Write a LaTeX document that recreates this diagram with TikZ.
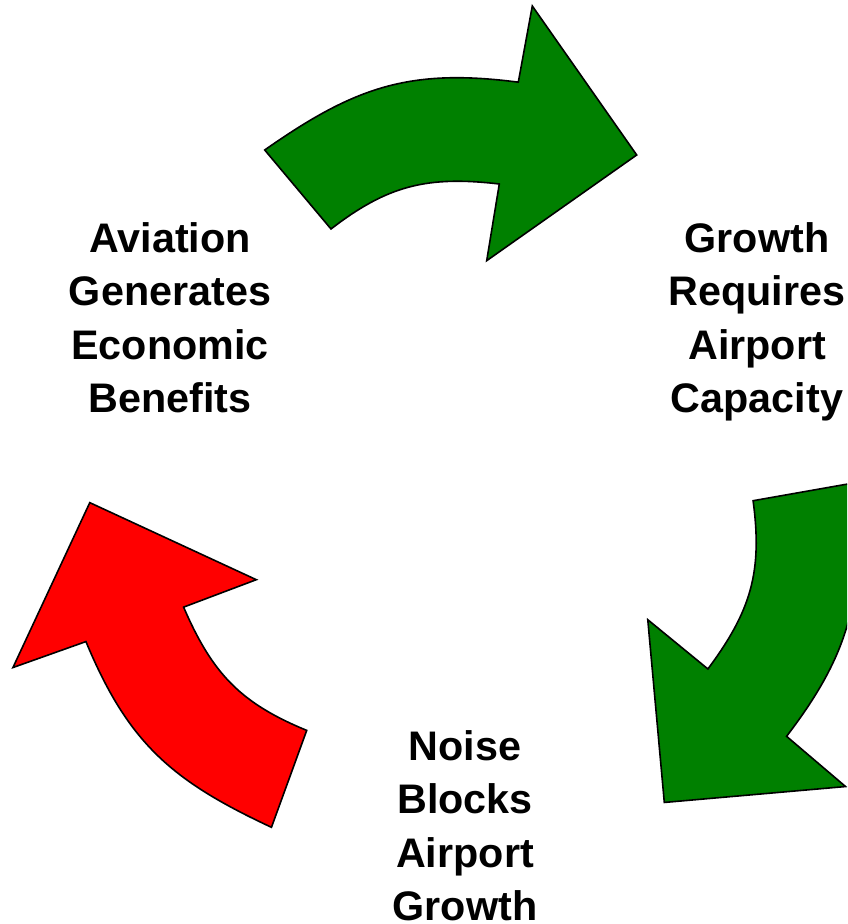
\documentclass[tikz,border=0pt]{standalone}
\usepackage{fontspec}
\setmainfont{Liberation Sans}
\usepackage{tikz}
\usetikzlibrary{positioning}
\definecolor{cyclegreen}{RGB}{0,128,0}
\definecolor{cyclered}{RGB}{255,0,0}
\tikzstyle{cyclearrow} = [draw=black, line width=0.8pt, miter limit=10]
\tikzstyle{cycletext} = [align=center, inner sep=0pt, anchor=north, font=\fontsize{20.65}{26.65}\selectfont\bfseries]

\begin{document}
\begin{tikzpicture}[x=0.5pt, y=0.5pt]
			\useasboundingbox (-463.6,-437.3) rectangle (383.4,486.7);
			\clip (-463.6,-437.3) rectangle (383.4,486.7);
			\foreach \ang/\col in {0/cyclegreen, -120/cyclegreen, 120/cyclered}
				\draw[cyclearrow, fill=\col, rotate=\ang] (-198.9,336.7) .. controls (-108.8,399.8) and (-54.3,418.7) .. (54.7,404.5) -- (68.7,480.7) -- (173.1,331.7) -- (23.1,226.0) -- (35.7,302.7) .. controls (-35.8,311.0) and (-75.6,301.7) .. (-132.6,257.7) -- cycle;
			\node[cycletext](benefits) at (-293.6,264.4){Aviation\\Generates\\Economic\\Benefits};
			\node[cycletext](capacity) at (293.4,264.4){Growth\\Requires\\Airport\\Capacity};
			\node[cycletext](noise) at (1.4,-243.6){Noise\\Blocks\\Airport\\Growth};
		\end{tikzpicture}
\end{document}
